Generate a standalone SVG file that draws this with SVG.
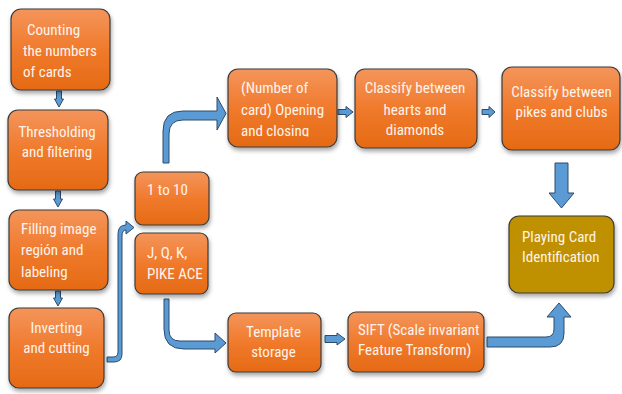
<svg xmlns="http://www.w3.org/2000/svg" width="622" height="394" viewBox="0 0 622 394">
<style>
.box{stroke:#3b3b3b;stroke-width:1.2;filter:url(#sh)}
.or{fill:url(#og)}
.gd{fill:#BF9000}
.t{font-family:"Liberation Sans Narrow","Roboto Condensed","Liberation Sans",sans-serif;font-size:15px;fill:#FFF4EC}
.m{text-anchor:middle}
.ar{fill:#5B9BD5;stroke:#2E4B6B;stroke-width:1;stroke-linejoin:miter}
</style>
<defs>
<linearGradient id="og" x1="0" y1="0" x2="0" y2="1">
<stop offset="0" stop-color="#F4955C"/>
<stop offset="0.5" stop-color="#F07A2C"/>
<stop offset="1" stop-color="#E56A14"/>
</linearGradient>
<filter id="sh" x="-10%" y="-10%" width="125%" height="130%">
<feDropShadow dx="1" dy="3" stdDeviation="2" flood-color="#000" flood-opacity="0.35"/>
</filter>
<clipPath id="clipN"><rect x="228" y="69" width="110" height="67.5"/></clipPath>
</defs>

<g id="connectors">
<path class="ar" d="M56.5,91 H61.5 V99 H63.5 L59,107 L54.5,99 H56.5 Z"/>
<path class="ar" d="M55.5,191 H60.5 V199 H62.5 L58,207 L53.5,199 H55.5 Z"/>
<path class="ar" d="M55.5,291 H60.5 V298 H62.5 L58,306 L53.5,298 H55.5 Z"/>
<path class="ar" d="M107,357 H113 Q118,357 118,352 V234 Q118,225 126,225 V221 L134,227.5 L126,234 V230 Q122,230 122,236 V354 Q122,362 114,362 H107 Z"/>
<path class="ar" d="M163,163 V131 Q163,111 183,111 H217 V97 L226,113.5 L217,130 V120 H183 Q169,120 169,134 V163 Z"/>
<path class="ar" d="M164,299 H169 V330 Q169,341 180,341 H215 V333 L226,343 L215,353 V349 H184 Q164,349 164,329 Z"/>
<path class="ar" d="M338,109.5 H346 V106.5 L353,112 L346,117.5 V114.5 H338 Z"/>
<path class="ar" d="M482,109.5 H489 V106.5 L495,112 L489,117.5 V114.5 H482 Z"/>
<path class="ar" d="M325,335.5 H337 V333 L345,339 L337,345 V342.5 H325 Z"/>
<path class="ar" d="M555,163 H568 V193 H574 L561.5,208 L549,193 H555 Z"/>
<path class="ar" d="M487,337 H546 Q554,337 554,329 V317 H547 L559,303 L571,317 H564 V333 Q564,347 550,347 H487 Z"/>
</g>

<g id="n1"><rect class="box or" x="11" y="9" width="99" height="81" rx="10"/>
<text class="t"><tspan x="27" y="35">Counting</tspan><tspan x="23" y="56">the numbers</tspan><tspan x="23" y="77">of cards</tspan></text></g>

<g id="n2"><rect class="box or" x="8" y="110" width="100" height="80" rx="10"/>
<text class="t m"><tspan x="57" y="136.5">Thresholding</tspan><tspan x="57" y="157">and filtering</tspan></text></g>

<g id="n3"><rect class="box or" x="9" y="210" width="99" height="80" rx="10"/>
<text class="t"><tspan x="21" y="234">Filling image</tspan><tspan x="21" y="255">región and</tspan><tspan x="21" y="276.5">labeling</tspan></text></g>

<g id="n4"><rect class="box or" x="9" y="308" width="95" height="80" rx="10"/>
<text class="t m"><tspan x="56.5" y="333">Inverting</tspan><tspan x="56.5" y="353">and cutting</tspan></text></g>

<g id="n5"><rect class="box or" x="135" y="172" width="74" height="53" rx="8"/>
<text class="t" x="147" y="195">1 to 10</text></g>

<g id="n6"><rect class="box or" x="135" y="233" width="73" height="61" rx="8"/>
<text class="t"><tspan x="147" y="258">J, Q, K,</tspan><tspan x="147" y="279">PIKE ACE</tspan></text></g>

<g id="n7"><rect class="box or" x="228" y="69" width="109" height="78" rx="10"/>
<text class="t" clip-path="url(#clipN)"><tspan x="241" y="93">(Number of</tspan><tspan x="241" y="115">card) Opening</tspan><tspan x="241" y="136">and closing</tspan></text></g>

<g id="n8"><rect class="box or" x="355" y="69" width="122" height="79" rx="10"/>
<text class="t m"><tspan x="415" y="93">Classify between</tspan><tspan x="415" y="115">hearts and</tspan><tspan x="415" y="135">diamonds</tspan></text></g>

<g id="n9"><rect class="box or" x="502" y="67" width="118" height="83" rx="10"/>
<text class="t m"><tspan x="561.5" y="97">Classify between</tspan><tspan x="561.5" y="117">pikes and clubs</tspan></text></g>

<g id="n10"><rect class="box gd" x="509" y="216" width="105" height="77" rx="10"/>
<text class="t"><tspan x="522" y="242">Playing Card</tspan><tspan x="522" y="262">Identification</tspan></text></g>

<g id="n11"><rect class="box or" x="228" y="313" width="93" height="59" rx="8"/>
<text class="t m"><tspan x="273.5" y="337">Template</tspan><tspan x="273.5" y="357">storage</tspan></text></g>

<g id="n12"><rect class="box or" x="348" y="312" width="136" height="60" rx="8"/>
<text class="t"><tspan x="358" y="335">SIFT (Scale invariant</tspan><tspan x="358" y="355">Feature Transform)</tspan></text></g>
</svg>
